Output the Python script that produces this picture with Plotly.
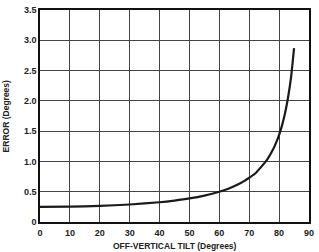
import plotly.graph_objects as go

tilt = [0, 10, 20, 30, 40, 45, 50, 55, 60, 63, 66, 68, 70, 72, 74, 76, 78, 79, 80, 81, 82, 83, 84, 85]
error = [0.25, 0.254, 0.266, 0.289, 0.326, 0.354, 0.389, 0.436, 0.50, 0.55, 0.615, 0.667, 0.73, 0.80, 0.91, 1.03, 1.20, 1.31, 1.44, 1.60, 1.80, 2.06, 2.39, 2.87]

x_ticks = [0, 10, 20, 30, 40, 50, 60, 70, 80, 90]
y_ticks = [0, 0.5, 1.0, 1.5, 2.0, 2.5, 3.0, 3.5]
y_labels = ["0", "0.5", "1.0", "1.5", "2.0", "2.5", "3.0", "3.5"]

FONT = "Liberation Sans, Arial, sans-serif"

fig = go.Figure()
fig.add_trace(go.Scatter(x=tilt, y=error, mode="lines", line=dict(color="#1a1a1a", width=2.2, shape="spline", smoothing=0.5), hoverinfo="skip"))

fig.update_layout(
    width=319, height=252,
    margin=dict(l=40, r=10, t=5, b=30),
    paper_bgcolor="white", plot_bgcolor="white",
    showlegend=False,
    font=dict(family=FONT, size=9, color="#222", weight="bold"),
    xaxis=dict(range=[0, 90], tickvals=x_ticks, ticktext=[str(v) for v in x_ticks],
               showgrid=True, gridcolor="#444", gridwidth=1, zeroline=False,
               showline=True, linecolor="#111", linewidth=1.5, mirror=True,
               ticks="", ticklen=0, fixedrange=True, ticklabelstandoff=1,
               tickfont=dict(family=FONT, size=9, color="#222", weight="bold")),
    yaxis=dict(range=[0, 3.5], tickvals=y_ticks, ticktext=y_labels,
               showgrid=True, gridcolor="#444", gridwidth=1, zeroline=False,
               showline=True, linecolor="#111", linewidth=1.5, mirror=True,
               ticks="", ticklen=0, fixedrange=True,
               tickfont=dict(family=FONT, size=9, color="#222", weight="bold")),
    annotations=[
        dict(text="OFF-VERTICAL TILT (Degrees)", xref="paper", yref="paper", x=0.5, y=-0.113,
             xanchor="center", yanchor="middle", showarrow=False,
             font=dict(family=FONT, size=8.5, color="#222", weight="bold")),
        dict(text="ERROR (Degrees)", xref="paper", yref="paper", x=-0.125, y=0.5,
             xanchor="center", yanchor="middle", textangle=-90, showarrow=False,
             font=dict(family=FONT, size=8.5, color="#222", weight="bold")),
    ],
)

fig.write_html("out.html", config={"displayModeBar": False})
